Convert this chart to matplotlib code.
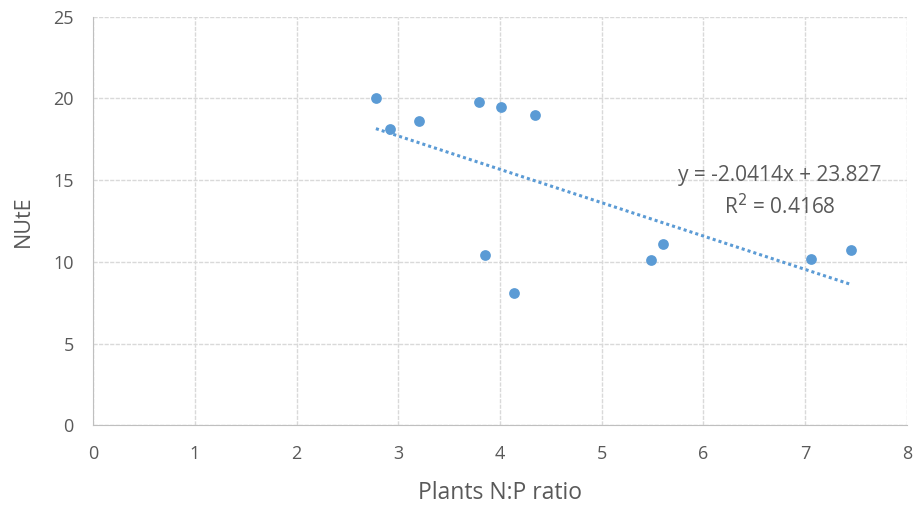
import matplotlib
matplotlib.use("Agg")
import matplotlib.pyplot as plt
import numpy as np

# Data
np_ratio = [2.78, 2.92, 3.20, 3.79, 4.01, 4.34, 3.85, 4.14, 5.49, 5.60, 7.06, 7.45]
nute = [20.0, 18.1, 18.6, 19.8, 19.5, 19.0, 10.4, 8.1, 10.1, 11.1, 10.2, 10.7]
slope = -2.0414
intercept = 23.827
r2 = 0.4168

plt.rcParams["font.family"] = ["Open Sans", "DejaVu Sans"]
text_color = "#595959"
grid_color = "#d9d9d9"
blue = "#5b9bd5"

fig = plt.figure(figsize=(9.14, 5.08), dpi=100)
ax = fig.add_axes([0.102, 0.163, 0.890, 0.804])

ax.scatter(np_ratio, nute, s=60, color=blue, zorder=3, linewidths=0)

# Linear trendline over the data range
xs = np.array([min(np_ratio), max(np_ratio)])
ax.plot(xs, slope * xs + intercept, color=blue, linestyle=(0, (1, 1)), linewidth=2.2, zorder=2)

ax.text(6.75, 15.3, f"y = {slope}x + {intercept}", ha="center", va="center", fontsize=15, color=text_color)
ax.text(6.75, 13.35, f"R$^2$ = {r2}", ha="center", va="center", fontsize=15, color=text_color)

ax.set_xlim(0, 8)
ax.set_ylim(0, 25)
ax.set_xticks(range(0, 9))
ax.set_yticks(range(0, 26, 5))
ax.grid(True, color=grid_color, linewidth=1, linestyle=(0, (3, 1)))
ax.set_axisbelow(True)

for side in ["top", "right"]:
    ax.spines[side].set_visible(False)
for side in ["left", "bottom"]:
    ax.spines[side].set_color("#bfbfbf")
ax.tick_params(length=0, labelsize=13, labelcolor=text_color)
ax.tick_params(axis="x", pad=14)
ax.tick_params(axis="y", pad=14)

ax.set_xlabel("Plants N:P ratio", fontsize=16.5, color=text_color, labelpad=13)
ax.set_ylabel("NUtE", fontsize=15.5, color=text_color, labelpad=14)

fig.savefig("out.png", dpi=100)
